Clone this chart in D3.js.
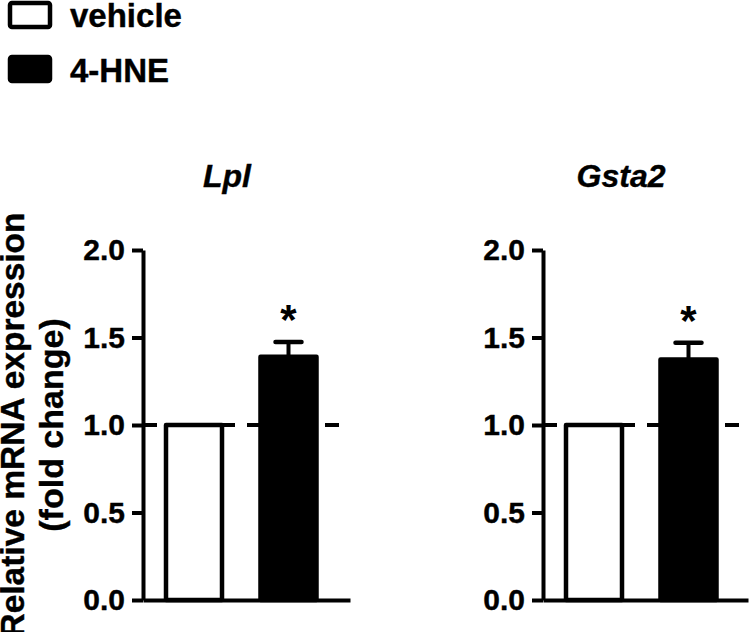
<!DOCTYPE html>
<html>
<head>
<meta charset="utf-8">
<script src="https://cdn.jsdelivr.net/npm/d3@7"></script>
<style>
  html, body { margin: 0; padding: 0; background: #fff; }
  svg { display: block; }
  text { font-family: "Liberation Sans", Arial, Helvetica, sans-serif; font-weight: bold; fill: #000; }
</style>
</head>
<body>
<svg id="chart" width="750" height="632"></svg>
<script>
// ---- data ----
const genes = ["Lpl", "Gsta2"];
const groups = ["vehicle", "4-HNE"];
const lplValues = [1.0, 1.39];
const lplErrors = [0, 0.085];
const gsta2Values = [1.0, 1.375];
const gsta2Errors = [0, 0.095];
const yTicks = [0.0, 0.5, 1.0, 1.5, 2.0];
const yTickLabels = ["0.0", "0.5", "1.0", "1.5", "2.0"];
const significance = ["", "*"];
const baseline = 1.0;
const yTitleLines = ["Relative mRNA expression", "(fold change)"];

const svg = d3.select("#chart");
const fills = d3.scaleOrdinal().domain(groups).range(["#fff", "#000"]);

// legend
const legend = svg.append("g");
groups.forEach((g, i) => {
  const row = legend.append("g").attr("transform", `translate(0, ${i * 54})`);
  row.append("rect").attr("x", 10).attr("y", 3).attr("width", 40).attr("height", 24)
    .attr("rx", 2).attr("fill", fills(g)).attr("stroke", "#000").attr("stroke-width", 4.5);
  row.append("text").attr("x", 70).attr("y", 27 + (i ? 1 : 0)).attr("font-size", 33)
    .attr("stroke", "#000").attr("stroke-width", 0.4).text(g);
});

// y title
const yTitle = svg.append("g").attr("stroke", "#000").attr("stroke-width", 0.4);
yTitle.append("text").attr("transform", "translate(24,425) rotate(-90)")
  .attr("text-anchor", "middle").attr("font-size", 33.5).text(yTitleLines[0]);
yTitle.append("text").attr("transform", "translate(63,425) rotate(-90)")
  .attr("text-anchor", "middle").attr("font-size", 34).text(yTitleLines[1]);

const panels = [
  { gene: genes[0], values: lplValues, errors: lplErrors, x0: 143, xEnd: 350, titleX: 84 },
  { gene: genes[1], values: gsta2Values, errors: gsta2Errors, x0: 543, xEnd: 748, titleX: 78 }
];

const y = d3.scaleLinear().domain([0, 2]).range([600, 250]);

panels.forEach(p => {
  const g = svg.append("g").attr("transform", `translate(${p.x0},0)`);
  const w = p.xEnd - p.x0;
  const x = d3.scaleBand().domain(groups).range([21, 175.5]).paddingInner(0.365).paddingOuter(0);

  // title
  g.append("text").attr("x", p.titleX).attr("y", 187).attr("text-anchor", "middle")
    .attr("font-size", 32).attr("font-style", "italic")
    .attr("stroke", "#000").attr("stroke-width", 0.4).text(p.gene);

  // dashed baseline
  g.append("line").attr("x1", 0).attr("x2", 198).attr("y1", y(baseline)).attr("y2", y(baseline))
    .attr("stroke", "#000").attr("stroke-width", 4).attr("stroke-dasharray", "14,12");

  const data = groups.map((k, i) => ({ k, v: p.values[i], e: p.errors[i], s: significance[i] }));

  // error bars
  const eb = g.selectAll(".eb").data(data.filter(d => d.e > 0)).enter().append("g");
  eb.append("line").attr("x1", d => x(d.k) + x.bandwidth() / 2).attr("x2", d => x(d.k) + x.bandwidth() / 2)
    .attr("y1", d => y(d.v)).attr("y2", d => y(d.v + d.e)).attr("stroke", "#000").attr("stroke-width", 4);
  eb.append("line").attr("x1", d => x(d.k) + x.bandwidth() / 2 - 13).attr("x2", d => x(d.k) + x.bandwidth() / 2 + 13)
    .attr("y1", d => y(d.v + d.e)).attr("y2", d => y(d.v + d.e)).attr("stroke", "#000").attr("stroke-width", 4.5)
    .attr("stroke-linecap", "round");

  // bars
  g.selectAll(".bar").data(data).enter().append("rect")
    .attr("x", d => x(d.k) + 2).attr("width", x.bandwidth() - 4)
    .attr("y", d => y(d.v)).attr("height", d => y(0) - y(d.v))
    .attr("fill", d => fills(d.k)).attr("stroke", "#000").attr("stroke-width", 4.5)
    .attr("stroke-linejoin", "round");

  // significance
  g.selectAll(".sig").data(data.filter(d => d.s)).enter().append("text")
    .attr("x", d => x(d.k) + x.bandwidth() / 2).attr("y", d => y(d.v + d.e) - 8)
    .attr("text-anchor", "middle").attr("font-size", 42).text(d => d.s);

  // y axis
  const axis = d3.axisLeft(y).tickValues(yTicks).tickFormat((d, i) => yTickLabels[i])
    .tickSize(11).tickSizeOuter(0).tickPadding(7);
  const ag = g.append("g").call(axis);
  ag.select(".domain").attr("stroke-width", 4);
  ag.selectAll(".tick line").attr("stroke-width", 4);
  ag.selectAll(".tick text").attr("font-size", 30).attr("font-family", null)
    .attr("stroke", "#000").attr("stroke-width", 0.4);

  // x axis line
  const xa = g.append("g").attr("transform", `translate(0,${y(0)})`)
    .call(d3.axisBottom(d3.scaleLinear().range([0, w])).tickValues([]).tickSizeOuter(0));
  xa.select(".domain").attr("stroke-width", 4);
});
</script>
</body>
</html>
